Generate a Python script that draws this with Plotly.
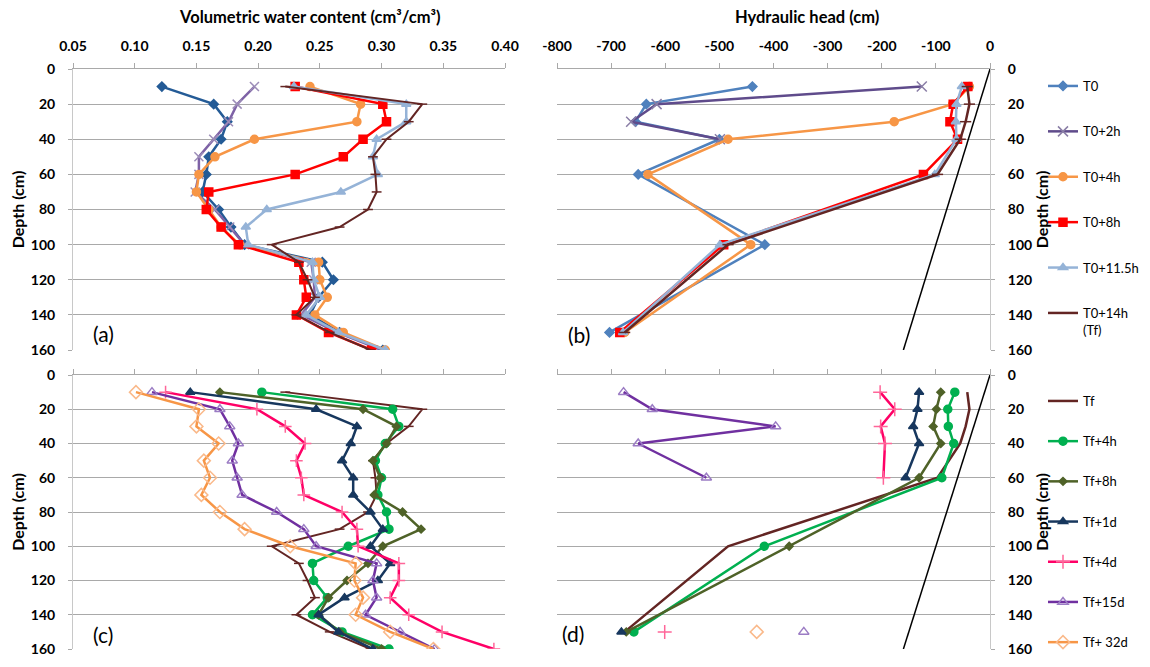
import plotly.graph_objects as go

# ---------------- data ----------------
depth_wc = [10, 20, 30, 40, 50, 60, 70, 80, 90, 100, 110, 120, 130, 140, 150, 160]
wc_T0 = [0.122, 0.164, 0.175, 0.170, 0.160, 0.158, 0.155, 0.168, 0.178, 0.189, 0.252, 0.261, 0.249, 0.242, 0.266, 0.301]
wc_T0_2h = [0.197, 0.183, 0.176, 0.164, 0.152, 0.152, 0.149, 0.165, 0.177, 0.189, 0.243, 0.245, 0.246, 0.235, 0.264, 0.300]
wc_T0_4h = [0.242, 0.283, 0.280, 0.197, 0.165, 0.152, 0.150, 0.160, 0.170, 0.185, 0.249, 0.250, 0.256, 0.246, 0.269, 0.303]
wc_T0_8h = [0.230, 0.301, 0.304, 0.285, 0.269, 0.230, 0.160, 0.158, 0.170, 0.184, 0.233, 0.237, 0.239, 0.231, 0.257, 0.292]
wc_T0_11h = [0.229, 0.320, 0.320, 0.296, 0.293, 0.297, 0.267, 0.207, 0.190, 0.192, 0.244, 0.245, 0.250, 0.239, 0.265, 0.303]
wc_Tf = [0.222, 0.333, 0.322, 0.304, 0.293, 0.295, 0.296, 0.289, 0.266, 0.211, 0.233, 0.240, 0.246, 0.231, 0.258, 0.291]
wc_Tf_4h = [0.203, 0.309, 0.314, 0.303, 0.295, 0.300, 0.297, 0.304, 0.306, 0.273, 0.244, 0.245, 0.256, 0.244, 0.268, 0.306]
wc_Tf_8h = [0.169, 0.285, 0.312, 0.304, 0.293, 0.299, 0.294, 0.317, 0.332, 0.301, 0.289, 0.272, 0.257, 0.249, 0.266, 0.300]
wc_Tf_1d = [0.145, 0.247, 0.280, 0.275, 0.268, 0.277, 0.277, 0.291, 0.301, 0.291, 0.307, 0.297, 0.270, 0.249, 0.265, 0.293]
wc_Tf_4d = [0.125, 0.199, 0.222, 0.238, 0.231, 0.235, 0.237, 0.268, 0.280, 0.281, 0.314, 0.314, 0.307, 0.322, 0.349, 0.391]
wc_Tf_15d = [0.114, 0.169, 0.177, 0.184, 0.179, 0.183, 0.187, 0.215, 0.237, 0.247, 0.296, 0.293, 0.296, 0.287, 0.315, 0.343]
wc_Tf_32d = [0.101, 0.152, 0.150, 0.168, 0.156, 0.161, 0.154, 0.169, 0.189, 0.226, 0.279, 0.278, 0.285, 0.279, 0.307, 0.342]

depth_h = [10, 20, 30, 40, 60, 100, 150]
h_T0 = [-439, -635, -655, -500, -650, -416, -703]
h_T0_2h = [-126, -616, -663, -499, None, None, None]
h_T0_4h = [-38, -69, -177, -484, -632, -442, -675]
h_T0_8h = [-41, -68, -74, -60, -123, -492, -684]
h_T0_11h = [-52, -62, -63, -62, -102, -499, -678]
h_Tf = [-42, -38, -45, -55, -97, -484, -675]
h_Tf_4h = [-65, -78, -77, -67, -89, -417, -658]
h_Tf_8h = [-91, -99, -105, -91, -131, -371, -672]
h_Tf_1d = [-131, -134, -142, -131, -156, None, -681]
h_Tf_4d = [-203, -176, -202, -194, -197, None, -601]
h_Tf_15d = [-677, -624, -396, -650, -524, None, -344]
h_Tf_32d = [None, None, None, None, None, None, -431]

hydro_depth = [0, 160]
hydro_head = [0, -160]

wc_ticks = [0.05, 0.10, 0.15, 0.20, 0.25, 0.30, 0.35, 0.40]
head_ticks = [-800, -700, -600, -500, -400, -300, -200, -100, 0]
depth_ticks = [0, 20, 40, 60, 80, 100, 120, 140, 160]

# ---------------- figure ----------------
# the page body has an 8px margin: the figure is placed 8px in and kept inside the window
OFF = 8
W, H = 1150 - OFF, 667 - 2 * OFF
FONT = "Lato"
GRID = "#A9A9A9"


def fx(px):
    return (px - OFF) / W


def fy(py):
    return 1 - (py - OFF) / H


fig = go.Figure()


def add(x, y, name, color, xa, ya, symbol=None, msize=7, mcolor=None, width=2.5,
        legend=None, show=False, mline=1.5):
    mode = "lines+markers" if symbol else "lines"
    marker = None
    if symbol:
        marker = dict(symbol=symbol, size=msize, color=mcolor or color,
                      line=dict(width=mline, color=mcolor or color))
    fig.add_trace(go.Scatter(
        x=x, y=y, name=name, mode=mode, xaxis=xa, yaxis=ya,
        line=dict(color=color, width=width), marker=marker,
        showlegend=show, legend=legend, legendgroup=name + (legend or ""),
    ))


# panel (a)
add(wc_T0, depth_wc, "T0", "#245B96", "x", "y", "diamond", 7)
add(wc_T0_2h, depth_wc, "T0+2h", "#7E62A6", "x", "y", "x-thin-open", 9, "#9C8DB8")
add(wc_T0_4h, depth_wc, "T0+4h", "#F79646", "x", "y", "circle", 8)
add(wc_T0_8h, depth_wc, "T0+8h", "#FF0000", "x", "y", "square", 8)
add(wc_T0_11h, depth_wc, "T0+11.5h", "#95B3D7", "x", "y", "triangle-up", 8)
add(wc_Tf, depth_wc, "T0+14h (Tf)", "#632523", "x", "y", "line-ew-open", 7, width=2)

# panel (b)
add(h_T0, depth_h, "T0", "#4F81BD", "x2", "y2", "diamond", 7, legend="legend", show=True)
add(h_T0_2h, depth_h, "T0+2h", "#5F4B8B", "x2", "y2", "x-thin-open", 10, "#8A7EA6", legend="legend", show=True)
add(h_T0_4h, depth_h, "T0+4h", "#F79646", "x2", "y2", "circle", 8, legend="legend", show=True)
add(h_T0_8h, depth_h, "T0+8h", "#FF0000", "x2", "y2", "square", 8, legend="legend", show=True)
add(h_T0_11h, depth_h, "T0+11.5h", "#95B3D7", "x2", "y2", "triangle-up", 8, legend="legend", show=True)
add(h_Tf, depth_h, "T0+14h<br>(Tf)", "#632523", "x2", "y2", "line-ew-open", 8, legend="legend", show=True)
fig.add_trace(go.Scatter(x=hydro_head, y=hydro_depth, mode="lines", xaxis="x2", yaxis="y2",
                         line=dict(color="#000000", width=1.5), showlegend=False))

# panel (c)
add(wc_Tf, depth_wc, "Tf", "#632523", "x3", "y3", "line-ew-open", 7, width=2)
add(wc_Tf_4h, depth_wc, "Tf+4h", "#00B050", "x3", "y3", "circle", 8)
add(wc_Tf_8h, depth_wc, "Tf+8h", "#4F6228", "x3", "y3", "diamond", 6)
add(wc_Tf_1d, depth_wc, "Tf+1d", "#17375E", "x3", "y3", "triangle-up", 8)
add(wc_Tf_4d, depth_wc, "Tf+4d", "#FF0066", "x3", "y3", "cross-thin-open", 9, "#FF6699")
add(wc_Tf_15d, depth_wc, "Tf+15d", "#7030A0", "x3", "y3", "triangle-up-open", 9, "#9B7CC4")
add(wc_Tf_32d, depth_wc, "Tf+ 32d", "#F79646", "x3", "y3", "diamond-open", 10, "#FAB98A")

# panel (d)
add(h_Tf, depth_h, "Tf", "#632523", "x4", "y4", None, legend="legend2", show=True)
add(h_Tf_4h, depth_h, "Tf+4h", "#00B050", "x4", "y4", "circle", 8, legend="legend2", show=True)
add(h_Tf_8h, depth_h, "Tf+8h", "#4F6228", "x4", "y4", "diamond", 6, legend="legend2", show=True)
add(h_Tf_1d, depth_h, "Tf+1d", "#17375E", "x4", "y4", "triangle-up", 8, legend="legend2", show=True)
add(h_Tf_4d, depth_h, "Tf+4d", "#FF0066", "x4", "y4", "cross-thin-open", 10, "#FF6699", legend="legend2", show=True)
add(h_Tf_15d, depth_h, "Tf+15d", "#7030A0", "x4", "y4", "triangle-up-open", 9, "#9B7CC4", legend="legend2", show=True)
add(h_Tf_32d, depth_h, "Tf+ 32d", "#F79646", "x4", "y4", "diamond-open", 10, "#FAB98A", legend="legend2", show=True)
fig.add_trace(go.Scatter(x=hydro_head, y=hydro_depth, mode="lines", xaxis="x4", yaxis="y4",
                         line=dict(color="#000000", width=1.5), showlegend=False))

tickfont = dict(family=FONT, size=14, color="#000000", weight="bold")
titlefont = dict(family=FONT, size=16.5, color="#000000", weight="bold")
ytitlefont = dict(family=FONT, size=16, color="#000000", weight="bold")


def xax(domain, anchor, rng, ticks, fmt, labels=True):
    return dict(domain=domain, anchor=anchor, side="top", range=rng, tickvals=ticks,
                ticktext=[fmt.format(v) for v in ticks],
                showticklabels=labels, showgrid=False, zeroline=False,
                showline=True, linecolor=GRID, linewidth=1, ticks="outside", ticklen=5,
                tickcolor=GRID, tickfont=tickfont, ticklabelstandoff=6, fixedrange=True,
                automargin=False, ticklabeloverflow="allow")


def yax(domain, anchor, side):
    return dict(domain=domain, anchor=anchor, side=side, range=[160, 0], tickvals=depth_ticks,
                showgrid=True, gridcolor=GRID, gridwidth=1, zeroline=False,
                showline=True, linecolor="#C8C8C8", linewidth=1, ticks="outside", ticklen=4,
                tickcolor=GRID, tickfont=tickfont, ticklabelstandoff=10, automargin=False,
                ticklabeloverflow="allow",
                title=dict(text="Depth (cm)", font=ytitlefont, standoff=4), fixedrange=True)


xa_dom = [fx(73), fx(505)]
xb_dom = [fx(557), fx(990)]
top_dom = [fy(350), fy(69)]
bot_dom = [fy(649), fy(375)]


def ann(text, px, py, font):
    return dict(text=text, x=fx(px), y=fy(py), xref="paper", yref="paper",
                xanchor="center", yanchor="middle", showarrow=False, font=font)


panel_font = dict(family=FONT, size=21, color="#000000")

fig.update_layout(
    width=W, height=H,
    margin=dict(l=0, r=0, t=0, b=0, autoexpand=False),
    paper_bgcolor="white", plot_bgcolor="white",
    font=dict(family=FONT, size=14, color="#000000"),
    xaxis=xax(xa_dom, "y", [0.05, 0.40], wc_ticks, "{:.2f}"),
    yaxis=yax(top_dom, "x", "left"),
    xaxis2=xax(xb_dom, "y2", [-800, 0], head_ticks, "{:d}"),
    yaxis2=yax(top_dom, "x2", "right"),
    xaxis3=xax(xa_dom, "y3", [0.05, 0.40], wc_ticks, "{:.2f}", labels=False),
    yaxis3=yax(bot_dom, "x3", "left"),
    xaxis4=xax(xb_dom, "y4", [-800, 0], head_ticks, "{:d}", labels=False),
    yaxis4=yax(bot_dom, "x4", "right"),
    legend=dict(x=fx(1043), y=fy(71), xanchor="left", yanchor="top",
                traceorder="grouped", tracegroupgap=25.5, itemwidth=30, valign="top",
                font=dict(family=FONT, size=13, color="#000000"), bgcolor="rgba(0,0,0,0)"),
    legend2=dict(x=fx(1043), y=fy(386), xanchor="left", yanchor="top",
                 traceorder="grouped", tracegroupgap=20.3, itemwidth=30,
                 font=dict(family=FONT, size=13, color="#000000"), bgcolor="rgba(0,0,0,0)"),
    annotations=[
        ann("Volumetric water content (cm³/cm³)", 310, 17, titlefont),
        ann("Hydraulic head (cm)", 807, 17, titlefont),
        ann("(a)", 103, 333, panel_font),
        ann("(b)", 579, 334, panel_font),
        ann("(c)", 103, 634, panel_font),
        ann("(d)", 573, 633, panel_font),
    ],
)

fig.write_html("out.html")
